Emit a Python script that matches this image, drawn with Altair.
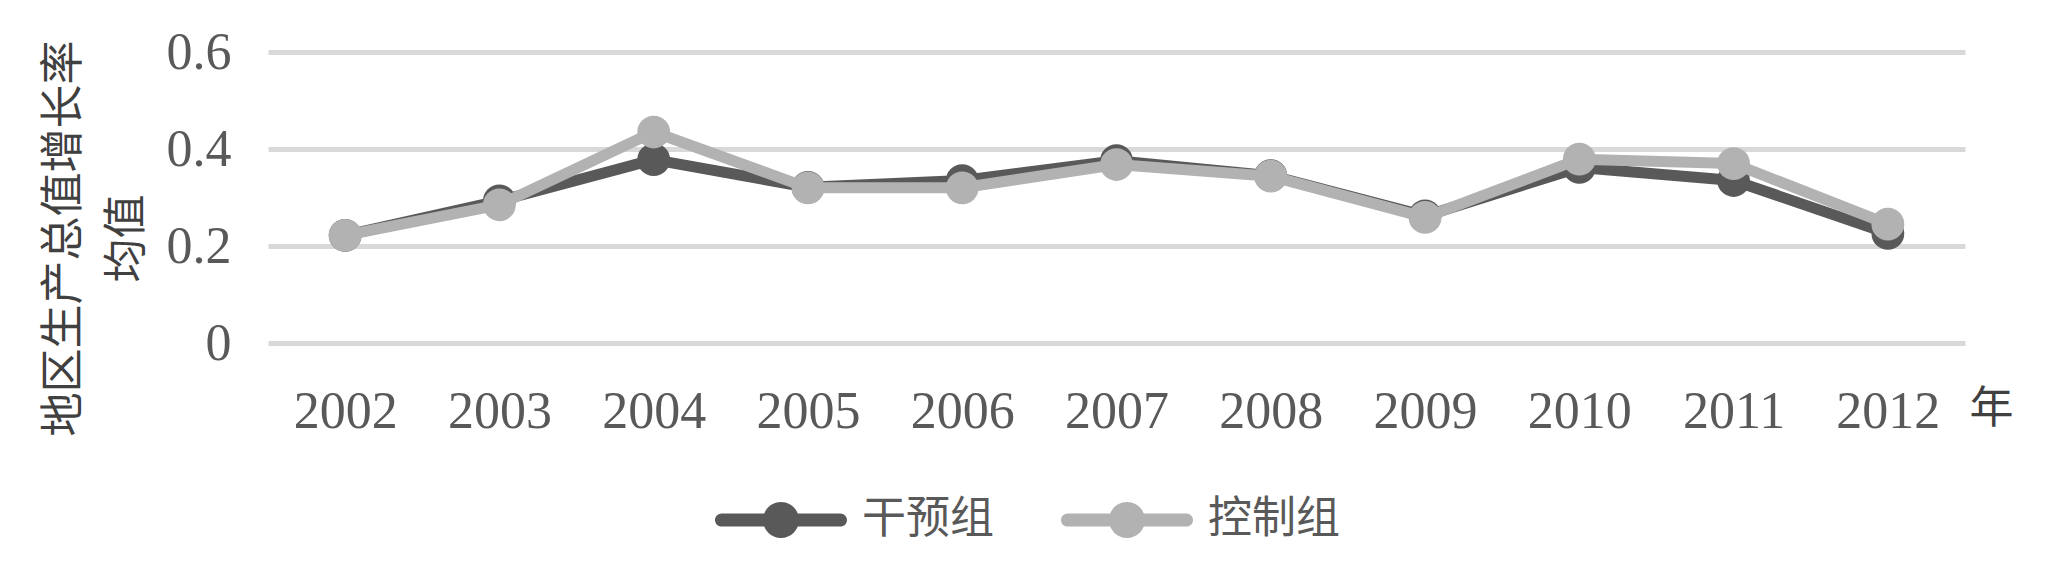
import altair as alt
import pandas as pd

years = [str(y) for y in range(2002, 2013)]
treat = [0.222, 0.293, 0.378, 0.321, 0.335, 0.376, 0.345, 0.262, 0.362, 0.335, 0.226]
control = [0.222, 0.285, 0.435, 0.320, 0.320, 0.368, 0.344, 0.259, 0.379, 0.370, 0.245]
groups = ["干预组", "控制组"]
colors = ["#595959", "#b2b2b2"]
y_ticks = [0, 0.2, 0.4, 0.6]

rows = []
for g, series in zip(groups, [treat, control]):
    for yr, v in zip(years, series):
        rows.append({"year": yr, "group": g, "value": v})
df = pd.DataFrame(rows)

FONT = "Liberation Serif, Noto Sans CJK SC"
CJK = "Noto Sans CJK SC"

legend_path = (
    "M-0.9,-0.1 L0.9,-0.1 A0.1,0.1 0 0 1 0.9,0.1 L-0.9,0.1 A0.1,0.1 0 0 1 -0.9,-0.1 Z "
    "M-0.273,0 A0.273,0.273 0 1 1 0.273,0 A0.273,0.273 0 1 1 -0.273,0 Z"
)

x_enc = alt.X(
    "year:N", sort=years,
    scale=alt.Scale(padding=0.5),
    axis=alt.Axis(
        title="年", labelAngle=0, ticks=False, tickSize=0, domain=False, grid=False,
        labelFont=FONT, labelFontSize=52, labelColor="#595959", labelPadding=43,
        titleX=1723, titleY=66, titleAlign="center", titleBaseline="middle",
        titleFont=CJK, titleFontSize=44, titleFontWeight="normal", titleColor="#404040",
    ),
)
y_enc = alt.Y(
    "value:Q",
    scale=alt.Scale(domain=[0, 0.6], nice=False, zero=True),
    axis=alt.Axis(
        values=y_ticks, title=["地区生产总值增长率", "均值"],
        labelExpr="datum.value == 0 ? '0' : format(datum.value, '.1f')",
        ticks=False, tickSize=0, domain=False, grid=True,
        gridColor="#d9d9d9", gridWidth=5,
        labelFont=FONT, labelFontSize=52, labelColor="#595959", labelPadding=37,
        titleFont=CJK, titleFontSize=44, titleFontWeight="normal", titleColor="#404040",
        titleX=-204, titleY=186, titleAlign="center", titleBaseline="middle",
        titleLineHeight=63, titleAngle=270,
    ),
)

fill_scale = alt.Scale(domain=groups, range=colors)

base = alt.Chart(df)

layers = []
for g, c in zip(groups, colors):
    line = base.transform_filter(alt.datum.group == g).mark_line(
        strokeWidth=11, strokeCap="round", strokeJoin="round", color=c
    ).encode(x=x_enc, y=y_enc)
    pts = base.transform_filter(alt.datum.group == g).mark_point(
        filled=True, size=1075, opacity=1, strokeWidth=0
    ).encode(
        x=x_enc, y=y_enc,
        fill=alt.Fill(
            "group:N", scale=fill_scale,
            legend=alt.Legend(
                title=None, orient="none", legendX=447, legendY=402, direction="horizontal",
                symbolType=legend_path, symbolSize=17424, symbolStrokeWidth=0, symbolOpacity=1,
                labelFont=CJK, labelFontSize=44, labelColor="#595959", labelOffset=15,
                columnPadding=67, labelLimit=0, padding=0,
            ),
        ),
    )
    layers += [line, pts]

chart = alt.layer(*layers).properties(
    width=1697, height=291,
    padding={"left": 260, "top": 44, "right": 74, "bottom": 211},
    autosize=alt.AutoSizeParams(type="none"),
    background="white",
).configure_view(stroke=None)

chart.save("out.html", embed_options={"renderer": "svg", "actions": False})
